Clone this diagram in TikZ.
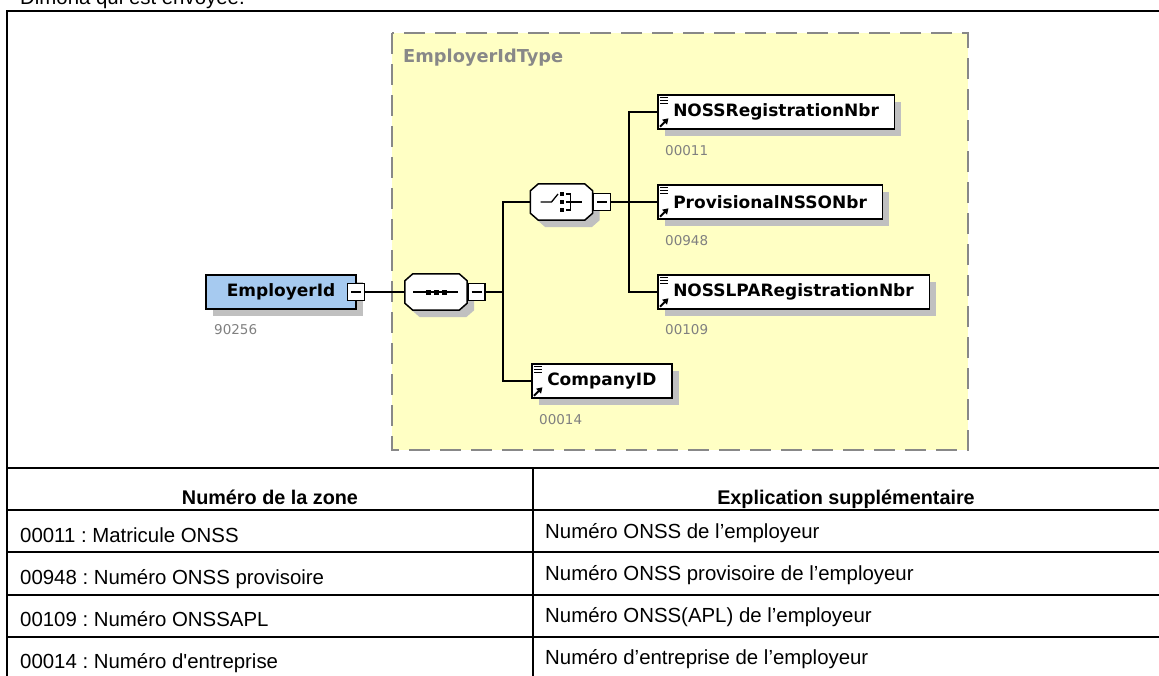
\documentclass[tikz,border=0pt]{standalone}
\usepackage{fontspec}
\setmainfont{Liberation Sans}
\newfontfamily\xs{DejaVu Sans}
\usetikzlibrary{calc,shadows,arrows.meta}
\definecolor{ybg}{RGB}{255,255,196}
\definecolor{dgray}{RGB}{136,136,136}
\definecolor{shgray}{RGB}{192,192,192}
\definecolor{eblue}{RGB}{166,202,240}
\definecolor{ngray}{RGB}{128,128,128}
\newcommand\sq{\XeTeXglyph\XeTeXcharglyph"0027\relax}
\tikzset{
  shd/.style={drop shadow={opacity=1,fill=shgray,shadow xshift=7pt,shadow yshift=-7pt}},
  elem/.style={shd,draw=black,line width=1.5pt,fill=white,minimum height=34pt,inner xsep=15.5pt,inner ysep=0pt,anchor=west,font=\xs\bfseries\fontsize{17}{20}\selectfont},
  octa/.style={minimum width=62pt,minimum height=36pt,inner sep=0pt},
  minusbox/.style={draw=black,line width=1.3pt,fill=white,minimum size=17pt,inner sep=0pt,
    path picture={\draw[line width=1.2pt] ([xshift=3.5pt]path picture bounding box.west) -- ([xshift=-3.5pt]path picture bounding box.east);}},
  num/.style={anchor=west,inner sep=0pt,text=ngray,font=\xs\fontsize{13.5}{16}\selectfont},
  conn/.style={draw=black,line width=1.5pt},
  tline/.style={draw=black,line width=2pt},
  ttext/.style={inner sep=0pt,font=\frenchspacing\fontsize{20.4}{24}\selectfont},
  thead/.style={inner sep=0pt,anchor=base,font=\bfseries\fontsize{19.8}{23}\selectfont}
}
\newcommand\elicons[1]{%
  \draw[line width=1pt] ($(#1.north west)+(3,3.5)$) -- +(7.5,0)
    ($(#1.north west)+(3,6.3)$) -- +(7.5,0)
    ($(#1.north west)+(3,9.1)$) -- +(7.5,0);
  \draw[line width=1.9pt,-{Triangle[length=5.5pt,width=6.5pt]}] ($(#1.south west)+(3,-3)$) -- ($(#1.south west)+(11.5,-11.5)$);
}
% octagon outline around a named node: #1 name, #2 shift
\newcommand\octpath[2]{%
  ($(#1.north west)+(8,0)+(#2)$) -- ($(#1.north east)+(-8,0)+(#2)$) --
  ($(#1.north east)+(0,7)+(#2)$) -- ($(#1.south east)+(0,-7)+(#2)$) --
  ($(#1.south east)+(-8,0)+(#2)$) -- ($(#1.south west)+(8,0)+(#2)$) --
  ($(#1.south west)+(0,-7)+(#2)$) -- ($(#1.north west)+(0,7)+(#2)$) -- cycle}
\newcommand\octagon[1]{%
  \fill[shgray] \octpath{#1}{7,7};
  \draw[line width=1.5pt,fill=white] \octpath{#1}{0,0};}
\begin{document}
\begin{tikzpicture}[x=1pt,y=-1pt]
\useasboundingbox (0,0) rectangle (1159,675);
\clip (0,0) rectangle (1159,675);
% top text (cut by the edge, as in the reference)
\node[ttext,anchor=base west] (intro) at (20,4.5) {Dimona qui est envoyée.};
% outer frame
\draw[tline] (7,676) -- (7,11) -- (1160,11);
% type box
\draw[fill=ybg,draw=dgray,line width=1.5pt,dash pattern=on 21pt off 10pt] (392,33) rectangle (968,450);
\node[anchor=west,inner sep=0pt,text=dgray,font=\xs\bfseries\fontsize{17.8}{20}\selectfont] (tname) at (403,58) {EmployerIdType};
% root element
\node[shd,draw=black,line width=1.5pt,fill=eblue,minimum width=150pt,minimum height=34pt,inner sep=0pt,font=\xs\bfseries\fontsize{17}{20}\selectfont] (emp) at (281,292) {EmployerId\hspace{6pt}};
\node[minusbox] (empm) at (356,292) {};
\node[num] (empn) at (214,330) {90256};
% sequence
\node[octa] (seq) at (436,292) {};
\octagon{seq}
\node[minusbox] (seqm) at (476.5,292) {};
\draw[line width=1.3pt] ($(seq.center)+(-23,0)$) -- ($(seq.center)+(22,0)$);
\foreach \dx in {-8,0,8}{\fill ($(seq.center)+(\dx-2.5,-2.5)$) rectangle +(5,5);}
% choice
\node[octa] (cho) at (561.5,202) {};
\octagon{cho}
\node[minusbox] (chom) at (602,202) {};
\draw[line width=1.3pt] ($(cho.center)+(-21,0)$) -- ($(cho.center)+(-10,0)$) -- ($(cho.center)+(-3.5,-8)$);
\foreach \dy in {-8,0,8}{\fill ($(cho.center)+(-1.5,\dy-2)$) rectangle +(4,4);}
\draw[line width=1.3pt] ($(cho.center)+(4,-8)$) -- ($(cho.center)+(9,-8)$) -- ($(cho.center)+(9,8)$) -- ($(cho.center)+(4,8)$)
  ($(cho.center)+(4,0)$) -- ($(cho.center)+(20,0)$);
% elements
\node[elem] (noss) at (657,112) {NOSSRegistrationNbr};
\node[elem] (prov) at (657,202) {ProvisionalNSSONbr};
\node[elem] (nlpa) at (657,292) {NOSSLPARegistrationNbr};
\node[elem] (comp) at (531,381) {CompanyID};
\elicons{noss}\elicons{prov}\elicons{nlpa}\elicons{comp}
\node[num] (n1) at (665,151) {00011};
\node[num] (n2) at (665,241) {00948};
\node[num] (n3) at (665,330) {00109};
\node[num] (n4) at (539,420) {00014};
% connectors
\coordinate (bus1) at (503,292);
\coordinate (bus2) at (629,202);
\path[conn] (empm.east) -- (seq.west);
\path[conn] (seqm.east) -- (bus1);
\path[conn] (cho.west) -| (bus1) |- (comp.west);
\path[conn] (chom.east) -- (bus2);
\path[conn] (noss.west) -| (bus2) |- (nlpa.west);
\path[conn] (bus2) -- (prov.west);
% table
\draw[tline] (7,467.5) -- (1160,467.5);
\draw[tline] (7,509.5) -- (1160,509.5);
\draw[tline] (7,552) -- (1160,552);
\draw[tline] (7,594.5) -- (1160,594.5);
\draw[tline] (7,636.5) -- (1160,636.5);
\draw[tline] (533,467.5) -- (533,676);
\node[thead] (h1) at (270,504) {Numéro de la zone};
\node[thead] (h2) at (846,504) {Explication supplémentaire};
\node[ttext,anchor=base west] (a1) at (20,542) {00011 : Matricule ONSS};
\node[ttext,anchor=base west] (a2) at (20,584) {00948 : Numéro ONSS provisoire};
\node[ttext,anchor=base west] (a3) at (20,626) {00109 : Numéro ONSSAPL};
\node[ttext,anchor=base west] (a4) at (20,668) {00014 : Numéro d\sq entreprise};
\node[ttext,anchor=base west] (b1) at (545,538) {Numéro ONSS de l’employeur};
\node[ttext,anchor=base west] (b2) at (545,580) {Numéro ONSS provisoire de l’employeur};
\node[ttext,anchor=base west] (b3) at (545,622) {Numéro ONSS(APL) de l’employeur};
\node[ttext,anchor=base west] (b4) at (545,664) {Numéro d’entreprise de l’employeur};
\end{tikzpicture}
\end{document}
